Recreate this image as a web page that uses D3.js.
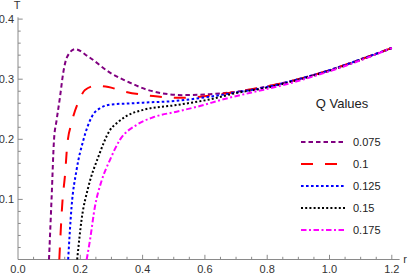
<!DOCTYPE html>
<html>
<head>
<meta charset="utf-8">
<script src="https://cdn.jsdelivr.net/npm/d3@7"></script>
<style>
	body { margin: 0; background: #fff; }
	svg { display: block; font-family: "Liberation Sans", Arial, sans-serif; }
</style>
</head>
<body>
<div class="chart"></div>
<script>
var outerW = 415,
	outerH = 275;

// Q values and line styles of each curve
var qLabels = ["0.075", "0.1", "0.125", "0.15", "0.175"];
var qColors = ["#800080", "#ff0000", "#0000ff", "#000000", "#ff00ff"];
var qDashes = ["4.5,3", "12,12", "2.6,2.4", "2,2.2", "5.5,2.5,2,2.5"];

// T(r), [r, T]
var q075 = [[0.0995, 0], [0.108, 0.104], [0.1156, 0.199], [0.124, 0.232], [0.135, 0.271], [0.145, 0.31],
	[0.158, 0.3375], [0.183, 0.350], [0.226, 0.3375], [0.295, 0.311], [0.36, 0.294], [0.424, 0.281],
	[0.53, 0.2735], [0.616, 0.275], [0.7, 0.279], [0.8, 0.288], [0.9, 0.300], [1.0, 0.315],
	[1.1, 0.333], [1.2, 0.352]];
var q100 = [[0.1326, 0], [0.143, 0.099], [0.151, 0.141], [0.158, 0.19], [0.172, 0.227], [0.199, 0.268],
	[0.215, 0.282], [0.25, 0.289], [0.29, 0.287], [0.338, 0.280], [0.434, 0.272], [0.52, 0.269],
	[0.606, 0.272], [0.7, 0.279], [0.8, 0.288], [0.9, 0.300], [1.0, 0.315], [1.1, 0.333], [1.2, 0.352]];
var q125 = [[0.161, 0], [0.172, 0.088], [0.188, 0.149], [0.21, 0.199], [0.237, 0.2376], [0.263, 0.2516],
	[0.30, 0.258], [0.35, 0.2595], [0.402, 0.261], [0.509, 0.264], [0.616, 0.271], [0.7, 0.278],
	[0.8, 0.287], [0.9, 0.300], [1.0, 0.315], [1.1, 0.333], [1.2, 0.352]];
var q150 = [[0.19, 0], [0.204, 0.066], [0.226, 0.121], [0.258, 0.171], [0.295, 0.215], [0.322, 0.229],
	[0.349, 0.239], [0.402, 0.249], [0.509, 0.257], [0.616, 0.2665], [0.7, 0.277], [0.8, 0.286],
	[0.9, 0.299], [1.0, 0.314], [1.1, 0.332], [1.2, 0.352]];
var q175 = [[0.2205, 0], [0.231, 0.032], [0.247, 0.088], [0.269, 0.132], [0.295, 0.1655], [0.327, 0.199],
	[0.381, 0.224], [0.434, 0.2366], [0.509, 0.246], [0.584, 0.2554], [0.659, 0.2665], [0.75, 0.278],
	[0.85, 0.290], [0.95, 0.305], [1.05, 0.322], [1.2, 0.352]];
var series = [q075, q100, q125, q150, q175];

var xTicks = [0, 0.2, 0.4, 0.6, 0.8, 1.0, 1.2];
var yTicks = [0.1, 0.2, 0.3, 0.4];

var svg = d3.select(".chart")
	.append("svg")
	.attr("width", outerW)
	.attr("height", outerH);

var x = d3.scaleLinear().domain([0, 1.225]).range([18, 399.6]);
var y = d3.scaleLinear().domain([0, 0.403]).range([259.5, 17.3]);

var axisColor = "#8a8a8a";

// x axis with inward ticks
var xAxis = svg.append("g").attr("class", "x-axis");
xAxis.append("line")
	.attr("x1", x(0)).attr("x2", x(1.225))
	.attr("y1", y(0)).attr("y2", y(0))
	.attr("stroke", axisColor);
xAxis.selectAll(".minor")
	.data(d3.range(0.05, 1.225, 0.05).filter(d => Math.abs(d * 5 - Math.round(d * 5)) > 1e-6))
	.enter().append("line")
	.attr("x1", d => x(d)).attr("x2", d => x(d))
	.attr("y1", y(0)).attr("y2", y(0) - 2.7)
	.attr("stroke", axisColor);
xAxis.selectAll(".major")
	.data(xTicks.slice(1))
	.enter().append("line")
	.attr("x1", d => x(d)).attr("x2", d => x(d))
	.attr("y1", y(0)).attr("y2", y(0) - 4.7)
	.attr("stroke", axisColor);
xAxis.selectAll("text")
	.data(xTicks)
	.enter().append("text")
	.attr("x", d => x(d))
	.attr("y", y(0) + 13)
	.attr("text-anchor", "middle")
	.attr("font-size", 11)
	.attr("fill", "#333")
	.text(d => d3.format(".1f")(d));

// y axis
var yAxis = svg.append("g").attr("class", "y-axis");
yAxis.append("line")
	.attr("x1", x(0)).attr("x2", x(0))
	.attr("y1", y(0)).attr("y2", y(0.403))
	.attr("stroke", axisColor);
yAxis.selectAll(".minor")
	.data(d3.range(1, 21).filter(d => d % 5 != 0).map(d => d * 0.02))
	.enter().append("line")
	.attr("x1", x(0)).attr("x2", x(0) + 2.7)
	.attr("y1", d => y(d)).attr("y2", d => y(d))
	.attr("stroke", axisColor);
yAxis.selectAll(".major")
	.data(yTicks)
	.enter().append("line")
	.attr("x1", x(0)).attr("x2", x(0) + 4.7)
	.attr("y1", d => y(d)).attr("y2", d => y(d))
	.attr("stroke", axisColor);
yAxis.selectAll("text")
	.data(yTicks)
	.enter().append("text")
	.attr("x", x(0) - 4)
	.attr("y", d => y(d) + 4)
	.attr("text-anchor", "end")
	.attr("font-size", 11)
	.attr("fill", "#333")
	.text(d => d3.format(".1f")(d));

svg.append("text")
	.attr("x", 17).attr("y", 9)
	.attr("text-anchor", "middle")
	.attr("font-size", 11)
	.attr("fill", "#333")
	.text("T");
svg.append("text")
	.attr("x", 405).attr("y", 263)
	.attr("text-anchor", "middle")
	.attr("font-size", 11)
	.attr("fill", "#333")
	.text("r");

// curves
var line = d3.line()
	.x(d => x(d[0]))
	.y(d => y(d[1]))
	.curve(d3.curveMonotoneX);

svg.selectAll(".curve")
	.data(series)
	.enter().append("path")
	.attr("class", "curve")
	.attr("d", line)
	.attr("fill", "none")
	.attr("stroke", (d, i) => qColors[i])
	.attr("stroke-width", 2)
	.attr("stroke-dasharray", (d, i) => qDashes[i]);

// legend
var legend = svg.append("g").attr("class", "legend");
legend.append("text")
	.attr("x", 342).attr("y", 107.5)
	.attr("text-anchor", "middle")
	.attr("font-size", 13)
	.attr("fill", "#222")
	.text("Q Values");

var rows = legend.selectAll(".row")
	.data(qLabels)
	.enter().append("g")
	.attr("class", "row")
	.attr("transform", (d, i) => "translate(0," + (142 + i * 22) + ")");
rows.append("line")
	.attr("x1", 301).attr("x2", 346)
	.attr("y1", 0).attr("y2", 0)
	.attr("stroke", (d, i) => qColors[i])
	.attr("stroke-width", 2)
	.attr("stroke-dasharray", (d, i) => qDashes[i]);
rows.append("text")
	.attr("x", 353).attr("y", 4)
	.attr("font-size", 11)
	.attr("fill", "#222")
	.text(d => d);
</script>
</body>
</html>
